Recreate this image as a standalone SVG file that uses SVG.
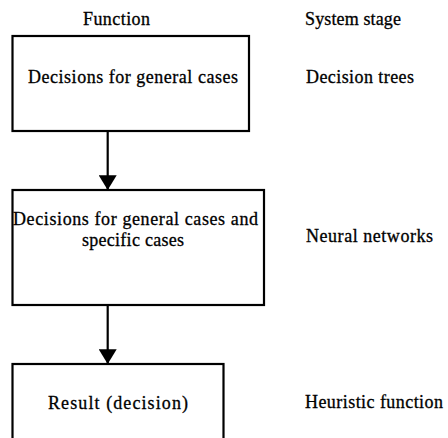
<svg xmlns="http://www.w3.org/2000/svg" width="448" height="438" viewBox="0 0 448 438">
<style>
.box{fill:#fff;stroke:#000;stroke-width:2.2}
.t{font-family:"Liberation Serif","Times New Roman",serif;font-size:18px;fill:#000;stroke:#000;stroke-width:0.3}
.c{stroke:#000;stroke-width:2.2;fill:none}
</style>
<defs>
<marker id="ah" markerUnits="userSpaceOnUse" markerWidth="18" markerHeight="18" viewBox="0 0 14 17" refX="14" refY="8.5" orient="auto">
<path d="M0,0 L14,8.5 L0,17 Z" fill="#000"/>
</marker>
</defs>
<rect width="448" height="438" fill="#fff"/>
<g id="headers">
<text class="t" x="83" y="25" textLength="67">Function</text>
<text class="t" x="305" y="25" textLength="96">System stage</text>
</g>
<g id="node1">
<rect class="box" x="12.5" y="36" width="236.5" height="95"/>
<text class="t" x="28" y="83" textLength="210">Decisions for general cases</text>
</g>
<g id="stage1"><text class="t" x="306" y="83" textLength="108">Decision trees</text></g>
<g id="node2">
<rect class="box" x="12.5" y="190" width="251.5" height="115"/>
<text class="t" x="13" y="225" textLength="245">Decisions for general cases and</text>
<text class="t" x="82" y="246" textLength="102">specific cases</text>
</g>
<g id="stage2"><text class="t" x="306" y="242" textLength="127">Neural networks</text></g>
<g id="node3">
<rect class="box" x="12.5" y="364" width="211" height="90"/>
<text class="t" x="48" y="409" textLength="140">Result (decision)</text>
</g>
<g id="stage3"><text class="t" x="305" y="408" textLength="138">Heuristic function</text></g>
<g id="connectors">
<line class="c" x1="107.7" y1="131" x2="107.7" y2="190" marker-end="url(#ah)"/>
<line class="c" x1="107.7" y1="305" x2="107.7" y2="364" marker-end="url(#ah)"/>
</g>
</svg>
